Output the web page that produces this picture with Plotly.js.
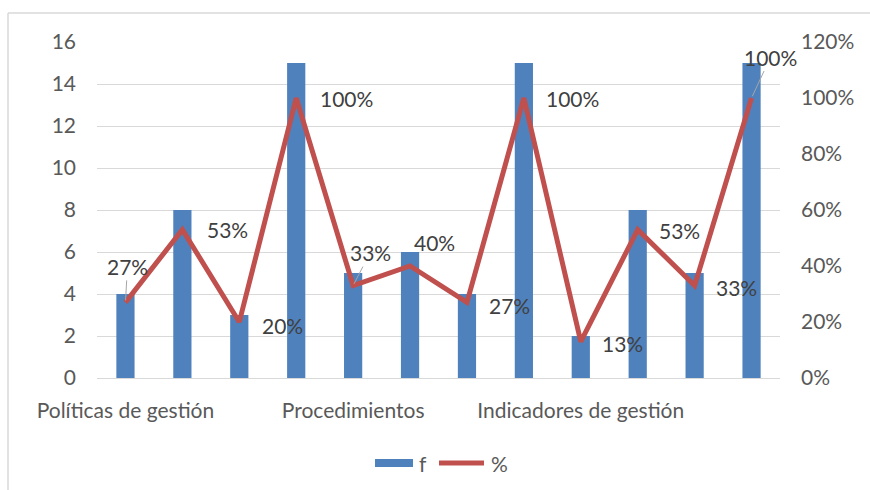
<!DOCTYPE html>
<html>
<head>
<meta charset="utf-8">
<script src="https://cdn.plot.ly/plotly-3.0.1.min.js"></script>
<style>html,body{margin:0;padding:0;background:#fff;}#chart{width:870px;height:490px;}</style>
</head>
<body>
<div id="chart"></div>
<script>
// Data
var categoryIndex = [0, 1, 2, 3, 4, 5, 6, 7, 8, 9, 10, 11];
var tickPositions = [0, 4, 8];
var tickLabels = ["Políticas de gestión", "Procedimientos", "Indicadores de gestión"];
var fValues = [4, 8, 3, 15, 5, 6, 4, 15, 2, 8, 5, 15];
var pctValues = [0.27, 0.53, 0.20, 1.00, 0.33, 0.40, 0.27, 1.00, 0.13, 0.53, 0.33, 1.00];
var pctLabels = ["27%", "53%", "20%", "100%", "33%", "40%", "27%", "100%", "13%", "53%", "33%", "100%"];
var seriesNames = ["f", "%"];

// label offsets (pixels) relative to the line points, and whether a leader line is drawn
var labelOffsets = [[2,-36,true],[45,0,false],[43,3,false],[50,0,false],[17,-33,true],[24,-24,false],
                    [43,3,false],[49,0,false],[42,2,false],[42,1,false],[42,2,false],[19,-41,true]];

var FONT = "Lato, 'Noto Sans', sans-serif";
var FS = 21;
var BLUE = "#4f81bd", RED = "#c0504d";

var traces = [
  {
    type: "bar", name: seriesNames[0], x: categoryIndex, y: fValues,
    marker: {color: BLUE}, width: 0.32, yaxis: "y", hoverinfo: "skip"
  },
  {
    type: "scatter", mode: "lines", name: seriesNames[1], x: categoryIndex, y: pctValues,
    line: {color: RED, width: 5}, yaxis: "y2", hoverinfo: "skip"
  }
];

var annotations = categoryIndex.map(function(i){
  var o = labelOffsets[i];
  var a = {
    x: categoryIndex[i], y: pctValues[i], xref: "x", yref: "y2",
    text: pctLabels[i], font: {family: FONT, size: FS, color: "#404040"}
  };
  if (o[2]) {
    a.showarrow = true; a.arrowhead = 0; a.arrowwidth = 1; a.arrowcolor = "#a6a6a6";
    a.ax = o[0]; a.ay = o[1]; a.standoff = 2;
  } else {
    a.showarrow = false; a.xshift = o[0]; a.yshift = -o[1];
  }
  return a;
});

var L = 97, R = 780, T = 42, B = 378;
function px(x){ return (x - L) / (R - L); }
function py(y){ return (B - y) / (B - T); }

// custom legend (wide Excel-style swatches)
annotations.push({xref: "paper", yref: "paper", x: px(417), y: py(463), xanchor: "left", yanchor: "middle",
  showarrow: false, text: seriesNames[0], font: {family: FONT, size: FS, color: "#595959"}});
annotations.push({xref: "paper", yref: "paper", x: px(489), y: py(463), xanchor: "left", yanchor: "middle",
  showarrow: false, text: seriesNames[1], font: {family: FONT, size: FS, color: "#595959"}});

var layout = {
  width: 870, height: 490,
  margin: {l: L, r: 870 - R, t: T, b: 490 - B},
  paper_bgcolor: "#ffffff", plot_bgcolor: "#ffffff",
  font: {family: FONT, size: FS, color: "#595959"},
  showlegend: false,
  bargap: 0.68,
  xaxis: {
    range: [-0.5, 11.5], tickmode: "array", tickvals: tickPositions, ticktext: tickLabels,
    showgrid: false, zeroline: false, showline: true, linecolor: "#d9d9d9", linewidth: 1,
    ticks: "", ticklabelstandoff: 14, tickfont: {family: FONT, size: FS, color: "#595959"}
  },
  yaxis: {
    range: [0, 16], dtick: 2, showgrid: true, gridcolor: "#d9d9d9", gridwidth: 1,
    zeroline: false, showline: false, ticks: "", ticklabelstandoff: 20,
    tickfont: {family: FONT, size: FS, color: "#595959"}
  },
  yaxis2: {
    range: [0, 1.2], dtick: 0.2, tickformat: ".0%", overlaying: "y", side: "right",
    showgrid: false, zeroline: false, showline: false, ticks: "", ticklabelstandoff: 20,
    tickfont: {family: FONT, size: FS, color: "#595959"}
  },
  annotations: annotations,
  shapes: [
    {type: "line", xref: "paper", yref: "paper", x0: px(8), x1: px(880), y0: py(13), y1: py(13),
     line: {color: "#d9d9d9", width: 1.5}},
    {type: "line", xref: "paper", yref: "paper", x0: px(8), x1: px(8), y0: py(13), y1: py(500),
     line: {color: "#d9d9d9", width: 1.5}},
    {type: "rect", xref: "paper", yref: "paper", x0: px(375), x1: px(413), y0: py(467), y1: py(459),
     fillcolor: BLUE, line: {width: 0}},
    {type: "line", xref: "paper", yref: "paper", x0: px(439), x1: px(484), y0: py(463), y1: py(463),
     line: {color: RED, width: 5}}
  ]
};

Plotly.newPlot("chart", traces, layout, {staticPlot: true, displayModeBar: false});
</script>
</body>
</html>
